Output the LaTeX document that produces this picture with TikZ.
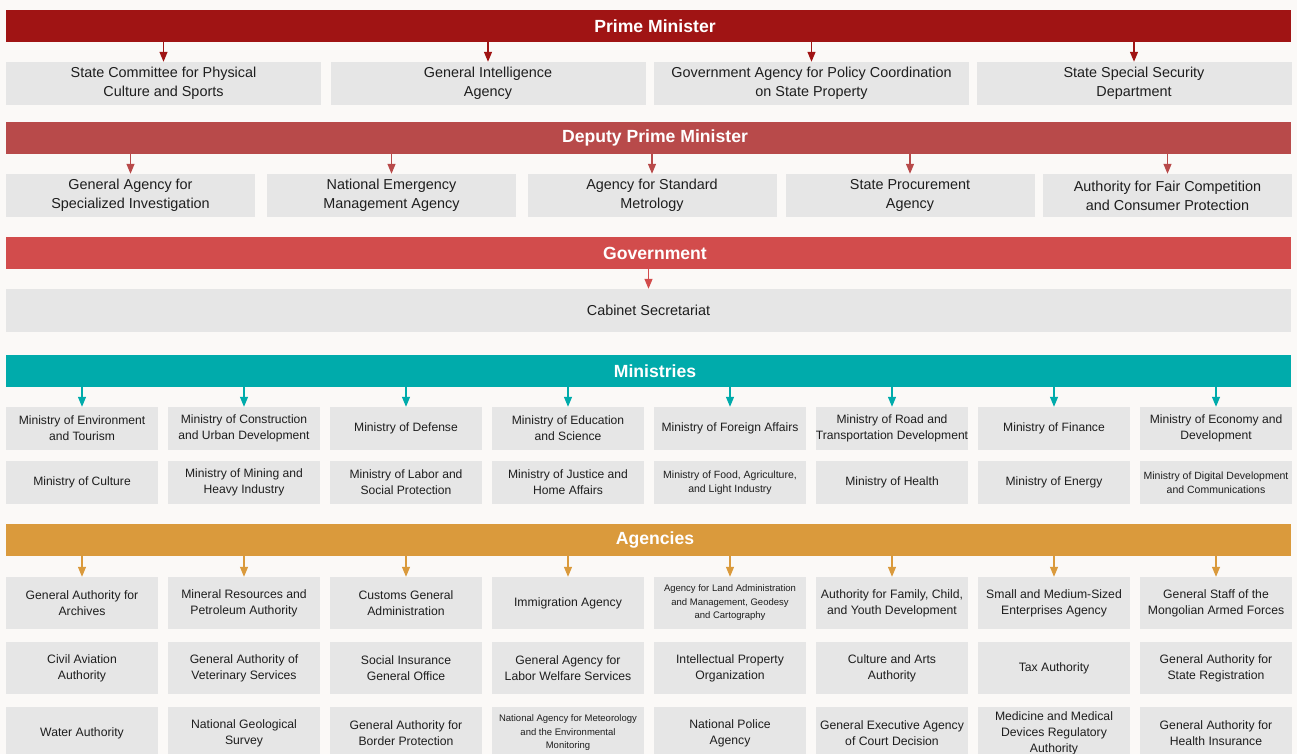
\documentclass[tikz,border=0pt]{standalone}
\usepackage{fontspec}
\setmainfont{Liberation Sans}
\usetikzlibrary{arrows.meta}

\definecolor{pmred}{HTML}{A01414}
\definecolor{dpmred}{HTML}{B84A4A}
\definecolor{govred}{HTML}{D24C4C}
\definecolor{minteal}{HTML}{00ABAB}
\definecolor{agyorange}{HTML}{DA9A3C}
\definecolor{boxgray}{HTML}{E6E6E6}
\definecolor{ink}{HTML}{1E1E1E}
\definecolor{paper}{HTML}{FBF9F7}

\begin{document}
\begin{tikzpicture}[
    x=1pt, y=-1pt,
    bar/.style={fill=#1, minimum width=1285pt, minimum height=32pt, inner sep=0pt},
    bartext/.style={xshift=6.5pt, text=white, font=\bfseries\fontsize{17.6}{20}\selectfont},
    box/.style={fill=boxgray, inner sep=0pt, align=center, text=ink},
    bigbox/.style={box, minimum height=43pt, font=\fontsize{14.4}{19}\selectfont},
    pmbox/.style={bigbox, minimum width=315pt},
    dpbox/.style={bigbox, minimum width=249pt},
    minbox/.style={box, minimum width=152pt, minimum height=43pt, font=\fontsize{12.1}{16}\selectfont},
    agybox/.style={box, minimum width=152pt, minimum height=52pt, font=\fontsize{12.2}{16}\selectfont},
    tiny/.style={font=\fontsize{10.5}{14}\selectfont},
    tinier/.style={font=\fontsize{9.5}{13.5}\selectfont},
    arr/.style={draw=#1, line width=1.2pt, -{Triangle[width=8pt,length=10pt]}},
]
\useasboundingbox (0,0) rectangle (1297,754);
\clip (0,0) rectangle (1297,754);
\fill[paper] (0,0) rectangle (1297,754);

% Prime Minister
\node[bar=pmred, label={[bartext]center:Prime Minister}] (pm) at (648.5,26) {};
\node[pmbox] (pm1) at (163.5,83.5) {State Committee for Physical\\Culture and Sports};
\node[pmbox] (pm2) at (488,83.5) {General Intelligence\\Agency};
\node[pmbox] (pm3) at (811.5,83.5) {Government Agency for Policy Coordination\\on State Property};
\node[pmbox] (pm4) at (1134,83.5) {State Special Security\\Department};
\foreach \i in {1,...,4}
    \draw[arr=pmred] (pm.south -| pm\i) -- (pm\i.north);

% Deputy Prime Minister
\node[bar=dpmred, label={[bartext]center:Deputy Prime Minister}] (dpm) at (648.5,138) {};
\node[dpbox] (dp1) at (130.5,195.5) {General Agency for\\Specialized Investigation};
\node[dpbox] (dp2) at (391.5,195.5) {National Emergency\\Management Agency};
\node[dpbox] (dp3) at (652,195.5) {Agency for Standard\\Metrology};
\node[dpbox] (dp4) at (910,195.5) {State Procurement\\Agency};
\node[dpbox] (dp5) at (1167.5,195.5) {Authority for Fair Competition\\and Consumer Protection};
\foreach \i in {1,...,5}
    \draw[arr=dpmred] (dpm.south -| dp\i) -- (dp\i.north);

% Government
\node[bar=govred, label={[bartext]center:Government}] (gov) at (648.5,253) {};
\node[bigbox, minimum width=1285pt] (cab) at (648.5,310.5) {Cabinet Secretariat};
\draw[arr=govred] (gov.south -| cab) -- (cab.north);

% Ministries
\node[bar=minteal, label={[bartext]center:Ministries}] (mins) at (648.5,371) {};
\node[minbox] (m1) at (82,428.5) {Ministry of Environment\\and Tourism};
\node[minbox] (m2) at (244,428.5) {Ministry of Construction\\and Urban Development};
\node[minbox] (m3) at (406,428.5) {Ministry of Defense};
\node[minbox] (m4) at (568,428.5) {Ministry of Education\\and Science};
\node[minbox] (m5) at (730,428.5) {Ministry of Foreign Affairs};
\node[minbox] (m6) at (892,428.5) {Ministry of Road and\\Transportation Development};
\node[minbox] (m7) at (1054,428.5) {Ministry of Finance};
\node[minbox] (m8) at (1216,428.5) {Ministry of Economy and\\Development};
\node[minbox] (m9) at (82,482.5) {Ministry of Culture};
\node[minbox] (m10) at (244,482.5) {Ministry of Mining and\\Heavy Industry};
\node[minbox] (m11) at (406,482.5) {Ministry of Labor and\\Social Protection};
\node[minbox] (m12) at (568,482.5) {Ministry of Justice and\\Home Affairs};
\node[minbox, tiny] (m13) at (730,482.5) {Ministry of Food, Agriculture,\\and Light Industry};
\node[minbox] (m14) at (892,482.5) {Ministry of Health};
\node[minbox] (m15) at (1054,482.5) {Ministry of Energy};
\node[minbox, tiny] (m16) at (1216,482.5) {Ministry of Digital Development\\and Communications};
\foreach \i in {1,...,8}
    \draw[arr=minteal] (mins.south -| m\i) -- (m\i.north);

% Agencies
\node[bar=agyorange, label={[bartext]center:Agencies}] (agys) at (648.5,540) {};
\node[agybox] (a1) at (82,603) {General Authority for\\Archives};
\node[agybox] (a2) at (244,603) {Mineral Resources and\\Petroleum Authority};
\node[agybox] (a3) at (406,603) {Customs General\\Administration};
\node[agybox] (a4) at (568,603) {Immigration Agency};
\node[agybox, tinier] (a5) at (730,603) {Agency for Land Administration\\and Management, Geodesy\\and Cartography};
\node[agybox] (a6) at (892,603) {Authority for Family, Child,\\and Youth Development};
\node[agybox] (a7) at (1054,603) {Small and Medium-Sized\\Enterprises Agency};
\node[agybox] (a8) at (1216,603) {General Staff of the\\Mongolian Armed Forces};
\node[agybox] (a9) at (82,668) {Civil Aviation\\Authority};
\node[agybox] (a10) at (244,668) {General Authority of\\Veterinary Services};
\node[agybox] (a11) at (406,668) {Social Insurance\\General Office};
\node[agybox] (a12) at (568,668) {General Agency for\\Labor Welfare Services};
\node[agybox] (a13) at (730,668) {Intellectual Property\\Organization};
\node[agybox] (a14) at (892,668) {Culture and Arts\\Authority};
\node[agybox] (a15) at (1054,668) {Tax Authority};
\node[agybox] (a16) at (1216,668) {General Authority for\\State Registration};
\node[agybox] (a17) at (82,733) {Water Authority};
\node[agybox] (a18) at (244,733) {National Geological\\Survey};
\node[agybox] (a19) at (406,733) {General Authority for\\Border Protection};
\node[agybox, tinier] (a20) at (568,733) {National Agency for Meteorology\\and the Environmental\\Monitoring};
\node[agybox] (a21) at (730,733) {National Police\\Agency};
\node[agybox] (a22) at (892,733) {General Executive Agency\\of Court Decision};
\node[agybox] (a23) at (1054,733) {Medicine and Medical\\Devices Regulatory\\Authority};
\node[agybox] (a24) at (1216,733) {General Authority for\\Health Insurance};
\foreach \i in {1,...,8}
    \draw[arr=agyorange] (agys.south -| a\i) -- (a\i.north);

\end{tikzpicture}
\end{document}
